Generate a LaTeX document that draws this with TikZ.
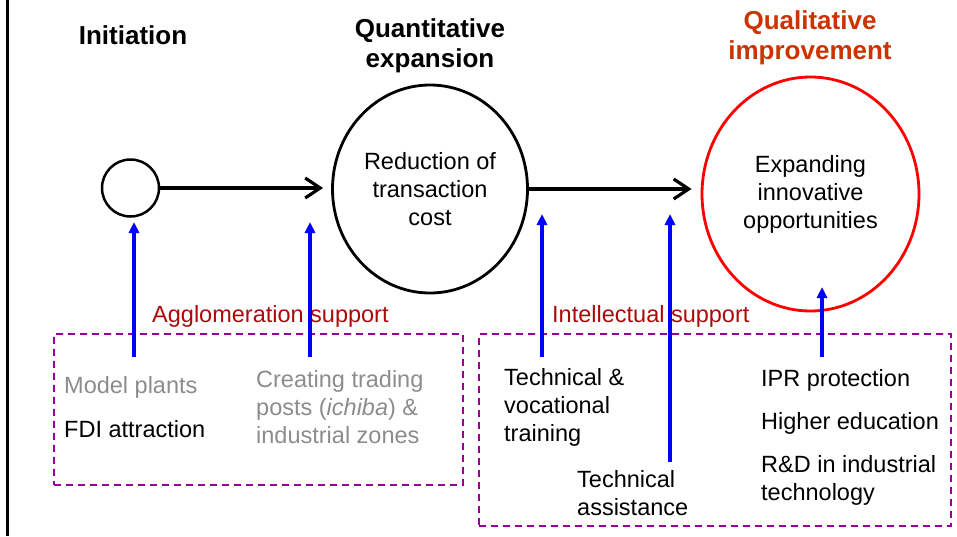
\documentclass[tikz,border=0pt]{standalone}
\usepackage{fontspec}
\setmainfont{Liberation Sans}
\usetikzlibrary{arrows.meta,shapes.geometric}
\definecolor{titlered}{RGB}{204,51,0}
\definecolor{supportred}{RGB}{170,10,10}
\definecolor{boxpurple}{RGB}{150,0,150}
\definecolor{softgray}{RGB}{140,140,140}
\begin{document}
\begin{tikzpicture}[x=1pt,y=-1pt,
  body/.style={font=\fontsize{23.5}{28}\selectfont, inner sep=0pt, align=left},
  heading/.style={font=\fontsize{26}{30}\selectfont\bfseries, inner sep=0pt, align=center},
  stage/.style={ellipse, draw, line width=2.8pt, inner sep=0pt, align=center,
    font=\fontsize{23.5}{28}\selectfont},
  flow/.style={line width=3.2pt, -{Straight Barb[length=15pt,width=20pt,line width=3.2pt]}},
  lift/.style={draw=blue, line width=3.2pt, -{Triangle[length=11pt,width=10pt,fill=blue]}},
  group/.style={draw=boxpurple, dash pattern=on 7pt off 5pt, line width=1.8pt,
    inner sep=0pt, rectangle},
  grouplabel/.style={body, text=supportred},
  faint/.style={body, text=softgray}
]
\useasboundingbox (0,0) rectangle (957,536);

% frame rule on the left edge
\draw[line width=3pt] (7,0) -- (7,536);

% stage headings (base anchor = baseline of the last line)
\node[heading] (hinit) at (133,35) {Initiation};
\node[heading, anchor=base] (hquant) at (430,67) {Quantitative\\expansion};
\node[heading, anchor=base, text=titlered] (hqual) at (810,59) {Qualitative\\improvement};

% the three stages
\node[draw, circle, line width=2.5pt, minimum size=57pt, inner sep=0pt] (seed) at (130.5,188) {};
\node[stage, minimum width=195pt, minimum height=208pt] (cost) at (430,189)
  {Reduction of\\transaction\\cost};
\node[stage, draw=red, minimum width=217pt, minimum height=234pt] (innov) at (810.5,194)
  {Expanding\\innovative\\opportunities};

% progression arrows
\draw[flow, shorten >=8pt] (seed.east) -- (seed.east -| cost.west);
\draw[flow, shorten >=9pt] (cost.east) -- (cost.east -| innov.west);

% support groups
\node[group, minimum width=409pt, minimum height=151pt] (aggbox) at (258.5,409.5) {};
\node[group, minimum width=472pt, minimum height=192pt] (intbox) at (715,430) {};
\node[grouplabel, anchor=base west] (agglabel) at (152,322) {Agglomeration support};
\node[grouplabel, anchor=base west] (intlabel) at (552,322) {Intellectual support};

% support measures
\node[faint, anchor=base west] (model) at (64,393) {Model plants};
\node[body, anchor=base west] (fdi) at (64,437) {FDI attraction};
\node[faint, anchor=base west] (posts) at (256,443)
  {Creating trading\\posts (\textit{ichiba}) \&\\industrial zones};
\node[body, anchor=base west] (tvet) at (504,441) {Technical \&\\vocational\\training};
\node[body, anchor=base west] (assist) at (577,515) {Technical\\assistance};
\node[body, anchor=base west] (ipr) at (761,386) {IPR protection};
\node[body, anchor=base west] (higher) at (761,429) {Higher education};
\node[body, anchor=base west] (rnd) at (761,500) {R\&D in industrial\\technology};

% support arrows
\coordinate (m1) at (134,357);  \coordinate (t1) at (134,222);
\coordinate (m2) at (310,357);  \coordinate (t2) at (310,222);
\coordinate (m3) at (542,357);  \coordinate (t3) at (542,214);
\coordinate (m4) at (670,462);  \coordinate (t4) at (670,214);
\coordinate (m5) at (822,357);  \coordinate (t5) at (822,287);
\foreach \i in {1,...,5} \draw[lift] (m\i) -- (t\i);
\end{tikzpicture}
\end{document}
